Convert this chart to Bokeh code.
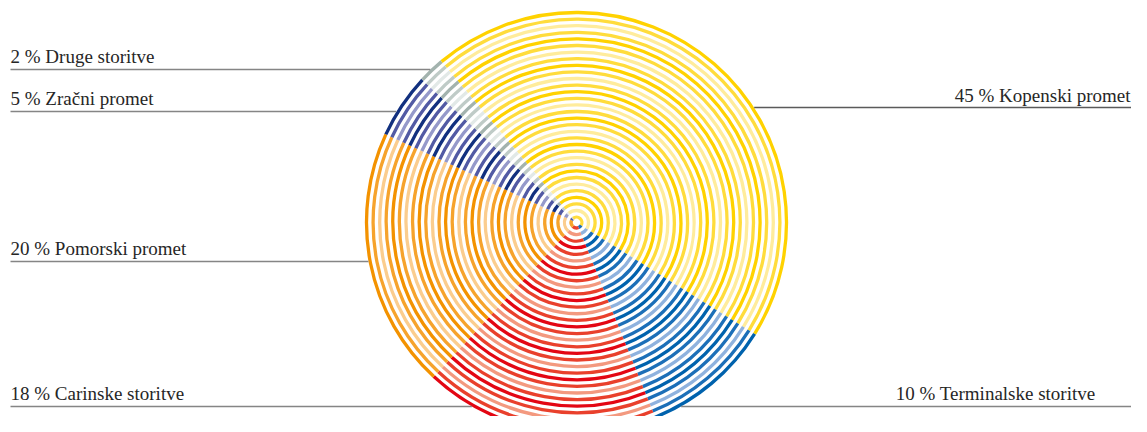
import math
from bokeh.plotting import figure
from bokeh.models import Range1d, ColumnDataSource
from bokeh.embed import file_html
from bokeh.resources import INLINE
from bokeh.core.properties import value

# ---------------- data ----------------
categories = ["Kopenski promet", "Terminalske storitve", "Carinske storitve",
              "Pomorski promet", "Zračni promet", "Druge storitve"]
shares = [45, 10, 18, 20, 5, 2]
label_texts = ["45 % Kopenski promet", "10 % Terminalske storitve",
               "18 % Carinske storitve", "20 % Pomorski promet",
               "5 % Zračni promet", "2 % Druge storitve"]

# ---------------- styles ----------------
shades = {
    "Kopenski promet":      ["#FFD200", "#FFDC3C", "#FFEC9C"],
    "Terminalske storitve": ["#0062AD", "#1C6FB8", "#8FB2DE"],
    "Carinske storitve":    ["#E30613", "#E9402C", "#F3997F"],
    "Pomorski promet":      ["#F39200", "#F6A32C", "#FBCD8E"],
    "Zračni promet":        ["#12307F", "#525AA4", "#9599CA"],
    "Druge storitve":       ["#A3B3AE", "#BFCBC7", "#E2E9E7"],
}
shade_cycle = [0, 1, 2, 1]

W, H = 1131, 416
CX, CY = 576, 194          # pie centre (px in plot space)
R_OUT = 210                # radius of outermost ring
N_RINGS = 32
STEP = 6.6
RING_W = 3.3
START_DEG = 130            # boundary between "Druge storitve" and "Kopenski promet"

# label layout (plot-space px): side, baseline y, line y
label_layout = {
    "Kopenski promet":      ("right", 321, 309),
    "Terminalske storitve": ("right", 23, 10),
    "Carinske storitve":    ("left", 23, 10),
    "Pomorski promet":      ("left", 168, 155),
    "Zračni promet":        ("left", 318, 305),
    "Druge storitve":       ("left", 360, 347),
}
LEFT_X = 10
right_text_x = {"Kopenski promet": 1130, "Terminalske storitve": 1095}

p = figure(width=W, height=H, x_range=Range1d(0, W), y_range=Range1d(0, H),
           output_backend="svg", toolbar_location=None, min_border=0)
p.axis.visible = False
p.grid.visible = False
p.outline_line_color = None
p.background_fill_color = "white"
p.border_fill_color = "white"

# ---------------- rings ----------------
xs, ys, rs, a0, a1, cols = [], [], [], [], [], []
cum = 0.0
for cat, s in zip(categories, shares):
    end = START_DEG - cum
    begin = end - s * 3.6
    cum += s * 3.6
    for i in range(N_RINGS):
        r = R_OUT - i * STEP
        xs.append(CX); ys.append(CY); rs.append(r)
        a0.append(math.radians(begin)); a1.append(math.radians(end))
        cols.append(shades[cat][shade_cycle[i % 4]])

src = ColumnDataSource(dict(x=xs, y=ys, r=rs, a0=a0, a1=a1, c=cols))
p.arc(x="x", y="y", radius="r", start_angle="a0", end_angle="a1",
      line_color="c", line_width=RING_W, line_cap="butt", source=src)

# ---------------- label lines and texts ----------------
R_EDGE = R_OUT + RING_W / 2
for cat, txt in zip(categories, label_texts):
    side, by, ly = label_layout[cat]
    dx = math.sqrt(max(R_EDGE ** 2 - (ly - CY) ** 2, 0))
    if side == "left":
        x0, x1 = LEFT_X, CX - dx
        tx, align = LEFT_X, "left"
        lc = "#858585"
    else:
        x0, x1 = CX + dx, W
        tx, align = right_text_x[cat], "right"
        lc = "#5a5a5a" if cat == "Kopenski promet" else "#858585"
    p.segment(x0=[x0], y0=[ly], x1=[x1], y1=[ly], line_color=lc, line_width=1.5)
    p.text(x=[tx], y=[by], text=[txt], text_align=align, text_baseline="alphabetic",
           text_font=value("Liberation Serif"), text_font_size="19px",
           text_color="#262626")

open("out.html", "w").write(file_html(p, INLINE))
